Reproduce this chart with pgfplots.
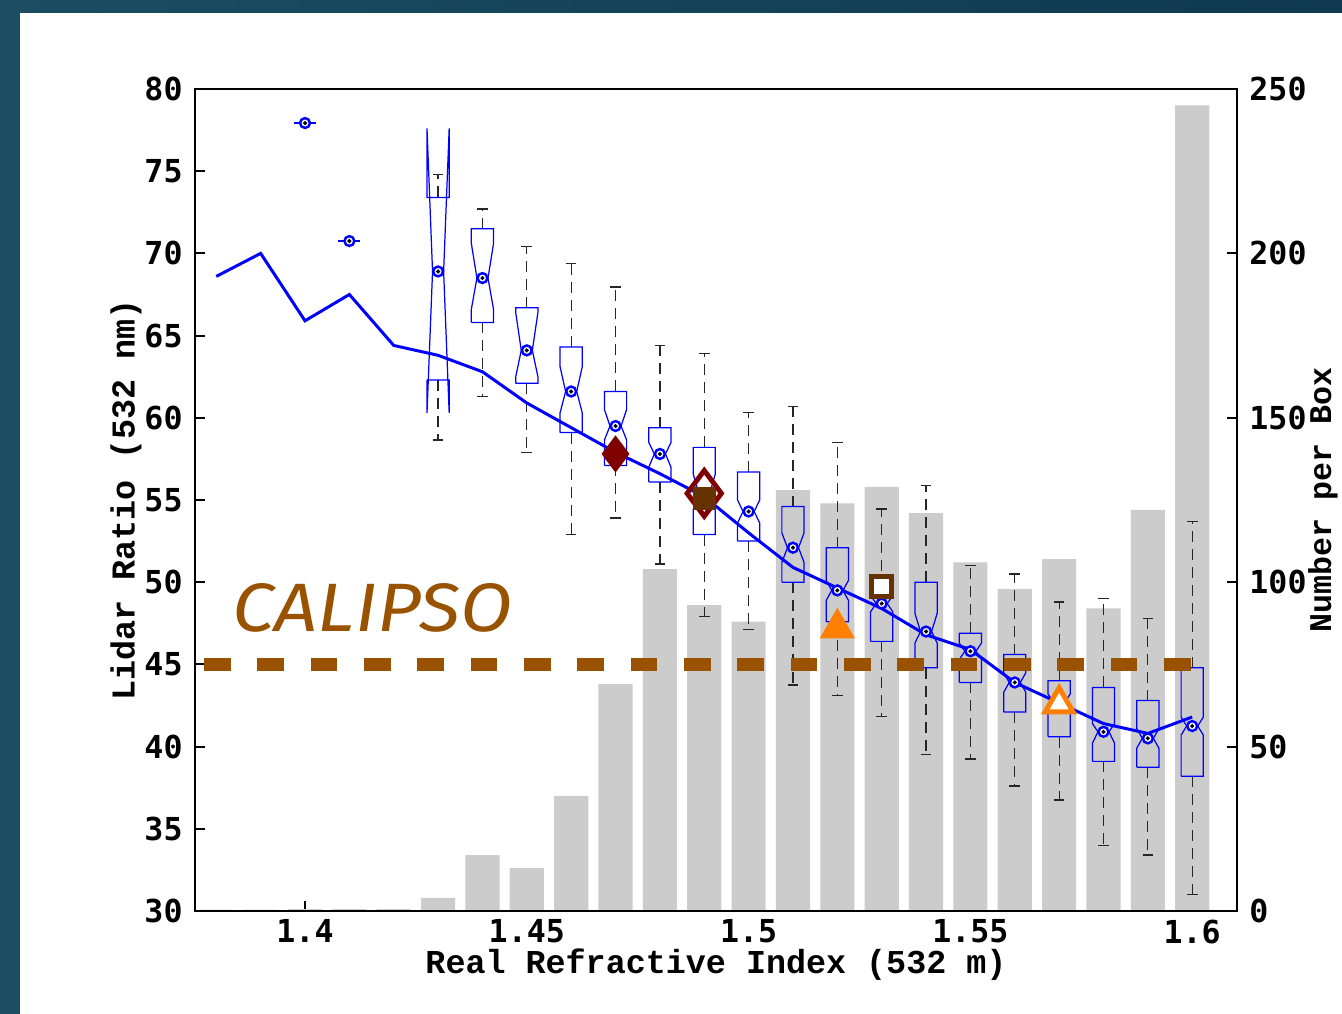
\documentclass[border=0pt]{standalone}
\usepackage{pgfplots}
\pgfplotsset{compat=1.18}
\usepackage{fontspec}
\setmainfont{Liberation Mono}
\newfontfamily\tickfont{DejaVu Sans Mono}
\newfontfamily\calfont{Fira Sans}

\definecolor{bgleft}{RGB}{27,77,99}
\definecolor{bgright}{RGB}{14,57,79}
\definecolor{barg}{RGB}{204,204,204}
\definecolor{calbrown}{RGB}{153,82,0}
\definecolor{darkred}{RGB}{128,0,0}
\definecolor{sqbrown}{RGB}{102,51,0}
\definecolor{orng}{RGB}{255,128,0}

\pgfplotsset{
  whisk/.style={black!85, line width=0.35pt, dash pattern=on 1.1mm off 0.7mm},
  wcap/.style={black!85, line width=0.35pt},
  boxl/.style={blue, line width=0.35pt},
}

% notched box: x, lower whisker, q1, notch low, median, notch high, q3, upper whisker
\newcommand{\nbox}[8]{%
  \addplot[whisk] table[row sep=\\, x expr=#1+\thisrow{d}, y=v] {d v\\ 0 #7\\ 0 #8\\};
  \addplot[whisk] table[row sep=\\, x expr=#1+\thisrow{d}, y=v] {d v\\ 0 #3\\ 0 #2\\};
  \addplot[wcap] table[row sep=\\, x expr=#1+\thisrow{d}, y=v] {d v\\ -0.0012 #8\\ 0.0012 #8\\};
  \addplot[wcap] table[row sep=\\, x expr=#1+\thisrow{d}, y=v] {d v\\ -0.0012 #2\\ 0.0012 #2\\};
  \addplot[boxl] table[row sep=\\, x expr=#1+\thisrow{d}, y=v] {d v\\
    -0.0025 #3\\ -0.0025 #4\\ -0.00125 #5\\ -0.0025 #6\\ -0.0025 #7\\
    0.0025 #7\\ 0.0025 #6\\ 0.00125 #5\\ 0.0025 #4\\ 0.0025 #3\\ -0.0025 #3\\};
}

\begin{document}
\begin{tikzpicture}
\fill[white] (0,0) rectangle (134.2mm,101.4mm);
\fill[bgleft] (0,0) rectangle (2mm,101.4mm);
\shade[left color=bgleft, right color=bgright] (0,100.1mm) rectangle (134.2mm,101.4mm);

% counts per box, right axis
\begin{axis}[
  at={(19.5mm,10.3mm)}, anchor=south west,
  scale only axis, width=104.2mm, height=82.2mm,
  xmin=1.3752, xmax=1.6101, ymin=0, ymax=250,
  xtick={1.4,1.45,1.5,1.55,1.6}, xtick pos=left,
  ytick={0,50,...,250}, ytick pos=right, yticklabel pos=right,
  tick align=inside, major tick length=1mm,
  axis line style={line width=0.6pt},
  every tick/.style={black, line width=0.6pt},
  ticklabel style={font=\tickfont\bfseries\fontsize{9}{10}\selectfont},
  xticklabel style={yshift=0.35mm},
  /pgf/number format/assume math mode=true,
  xlabel={Real Refractive Index (532 m)},
  xlabel style={font=\bfseries\fontsize{9.5}{10}\selectfont,
    at={(axis description cs:0.5,-0.0655)}, anchor=center},
  ylabel={Number per Box},
  ylabel style={font=\bfseries\fontsize{9}{10}\selectfont,
    at={(axis description cs:1.0825,0.5)}, anchor=center},
]
\addplot[ybar, bar width=0.0077, bar shift=0pt, fill=barg, draw=none] coordinates {
  (1.38,0.4) (1.39,0.4) (1.40,0.6) (1.41,0.6) (1.42,0.6) (1.43,4) (1.44,17)
  (1.45,13) (1.46,35) (1.47,69) (1.48,104) (1.49,93) (1.50,88) (1.51,128)
  (1.52,124) (1.53,129) (1.54,121) (1.55,106) (1.56,98) (1.57,107) (1.58,92)
  (1.59,122) (1.60,245)};
\end{axis}

% lidar ratio, left axis
\begin{axis}[
  at={(19.5mm,10.3mm)}, anchor=south west,
  scale only axis, width=104.2mm, height=82.2mm,
  xmin=1.3752, xmax=1.6101, ymin=30, ymax=80,
  xtick=\empty,
  ytick={30,35,...,80}, ytick pos=left,
  tick align=inside, major tick length=1mm,
  axis line style={line width=0.6pt},
  every tick/.style={black, line width=0.6pt},
  ticklabel style={font=\tickfont\bfseries\fontsize{9}{10}\selectfont},
  /pgf/number format/assume math mode=true,
  ylabel={Lidar Ratio (532 nm)},
  ylabel style={font=\bfseries\fontsize{9.5}{10}\selectfont,
    at={(axis description cs:-0.0662,0.5)}, anchor=center},
]
% single-value boxes
\addplot[blue, line width=0.6pt] coordinates {(1.3975,77.93) (1.4025,77.93)};
\addplot[blue, line width=0.6pt] coordinates {(1.4075,70.75) (1.4125,70.75)};

\nbox{1.43}{58.65}{62.3}{60.3}{68.9}{77.6}{73.4}{74.8}
\nbox{1.44}{61.3}{65.8}{66.6}{68.5}{70.6}{71.5}{72.7}
\nbox{1.45}{57.9}{62.1}{62.5}{64.1}{66.4}{66.7}{70.4}
\nbox{1.46}{52.9}{59.1}{60.3}{61.6}{63.1}{64.3}{69.4}
\nbox{1.47}{53.9}{57.1}{58.65}{59.5}{60.5}{61.6}{67.95}
\nbox{1.48}{51.1}{56.1}{57.0}{57.8}{58.5}{59.4}{64.4}
\nbox{1.49}{47.9}{52.9}{54.4}{55.4}{56.6}{58.2}{63.9}
\nbox{1.50}{47.1}{52.5}{53.6}{54.3}{55.0}{56.7}{60.3}
\nbox{1.51}{43.75}{50.0}{51.2}{52.1}{53.0}{54.6}{60.7}
\nbox{1.52}{43.1}{47.6}{48.9}{49.5}{50.1}{52.1}{58.5}
\nbox{1.53}{41.85}{46.4}{48.2}{48.7}{49.2}{49.6}{54.45}
\nbox{1.54}{39.5}{44.8}{46.3}{47.0}{48.1}{50.0}{55.9}
\nbox{1.55}{39.25}{43.9}{45.3}{45.8}{46.3}{46.9}{51.0}
\nbox{1.56}{37.6}{42.1}{43.3}{43.9}{44.5}{45.6}{50.5}
\nbox{1.57}{36.75}{40.6}{42.2}{42.7}{43.2}{44.0}{48.8}
\nbox{1.58}{34.0}{39.1}{40.2}{40.9}{41.4}{43.6}{49.0}
\nbox{1.59}{33.4}{38.75}{39.9}{40.5}{41.1}{42.8}{47.8}
\nbox{1.60}{31.0}{38.2}{40.7}{41.25}{41.8}{44.8}{53.7}

% CALIPSO lidar ratio
\addplot[calbrown, line width=1.27mm, dash pattern=on 2.667mm off 2.667mm]
  coordinates {(1.3772,45) (1.6,45)};
\node[anchor=west, inner sep=0pt, text=calbrown] at (axis cs:1.3835,48.43)
  {\resizebox{28mm}{4.8mm}{\calfont\itshape CALIPSO}};

% mean curve
\addplot[blue, line width=0.85pt] coordinates {
  (1.38,68.6) (1.39,70.0) (1.40,65.9) (1.41,67.5) (1.42,64.4) (1.43,63.8)
  (1.44,62.8) (1.45,60.9) (1.46,59.4) (1.47,57.9) (1.48,56.6) (1.49,55.2)
  (1.50,53.0) (1.51,50.9) (1.52,49.65) (1.53,48.4) (1.54,46.8) (1.55,45.9)
  (1.56,43.9) (1.57,42.65) (1.58,41.4) (1.59,40.8) (1.60,41.8)};

% medians
\addplot[only marks, mark=*, mark size=1.4pt,
  mark options={draw=blue, fill=white, line width=0.7pt}] coordinates {
  (1.40,77.93) (1.41,70.75) (1.43,68.9) (1.44,68.5) (1.45,64.1) (1.46,61.6)
  (1.47,59.5) (1.48,57.8) (1.49,55.4) (1.50,54.3) (1.51,52.1) (1.52,49.5)
  (1.53,48.7) (1.54,47.0) (1.55,45.8) (1.56,43.9) (1.57,42.7) (1.58,40.9)
  (1.59,40.5) (1.60,41.25)};
\addplot[only marks, mark=*, mark size=0.35pt, black] coordinates {
  (1.40,77.93) (1.41,70.75) (1.43,68.9) (1.44,68.5) (1.45,64.1) (1.46,61.6)
  (1.47,59.5) (1.48,57.8) (1.49,55.4) (1.50,54.3) (1.51,52.1) (1.52,49.5)
  (1.53,48.7) (1.54,47.0) (1.55,45.8) (1.56,43.9) (1.57,42.7) (1.58,40.9)
  (1.59,40.5) (1.60,41.25)};

% other retrievals
\addplot[only marks, mark=diamond*, mark size=4.96pt, darkred] coordinates {(1.47,57.8)};
\addplot[only marks, mark=diamond, mark size=6.5pt, mark options={draw=darkred, line width=1.4pt}] coordinates {(1.49,55.4)};
\addplot[only marks, mark=square*, mark size=3.1pt, sqbrown] coordinates {(1.49,55.1)};
\addplot[only marks, mark=square*, mark size=2.85pt, mark options={draw=sqbrown, fill=white, line width=1.4pt}] coordinates {(1.53,49.74)};
\addplot[only marks, mark=triangle*, mark size=5.4pt, orng] coordinates {(1.52,47.2)};
\addplot[only marks, mark=triangle*, mark size=4.6pt, mark options={draw=orng, fill=white, line width=1.4pt}] coordinates {(1.57,42.6)};
\end{axis}

\pgfresetboundingbox
\useasboundingbox (0,0) rectangle (134.2mm,101.4mm);
\end{tikzpicture}
\end{document}
